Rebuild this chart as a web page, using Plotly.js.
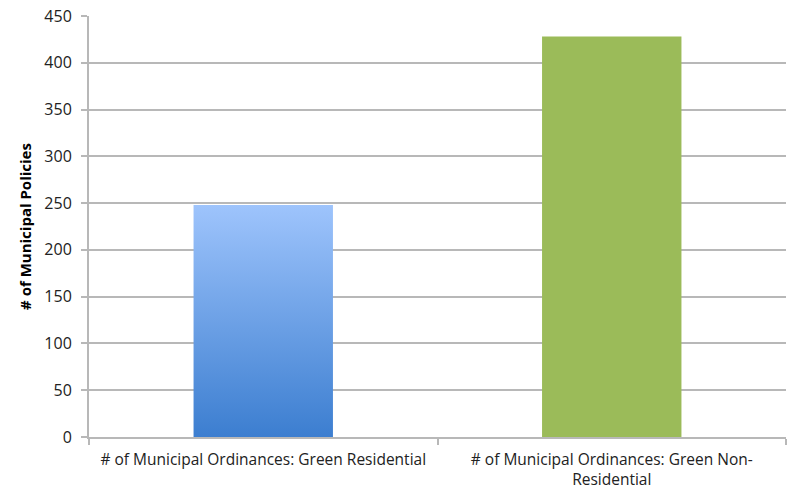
<!DOCTYPE html>
<html>
<head>
<meta charset="utf-8">
<script src="https://cdn.plot.ly/plotly-3.0.1.min.js"></script>
<style>html,body{margin:0;padding:0;background:#fff;}#chart{width:794px;height:492px;}</style>
</head>
<body>
<div id="chart"></div>
<script>
const categories = ["# of Municipal Ordinances: Green Residential", "# of Municipal Ordinances: Green Non-<br>Residential"];
const values = [248, 428];
const barColors = ["#6FA3EA", "#9BBB59"];
const yTickVals = [0, 50, 100, 150, 200, 250, 300, 350, 400, 450];

const font = "Open Sans, Arial, sans-serif";
const trace = {
  type: "bar",
  x: categories,
  y: values,
  marker: {color: barColors, line: {width: 0}},
  hoverinfo: "none"
};
const layout = {
  width: 794, height: 492,
  margin: {l: 89, r: 8, t: 16, b: 55},
  paper_bgcolor: "#fff", plot_bgcolor: "#fff",
  bargap: 0.6,
  showlegend: false,
  font: {family: font, size: 15, color: "#222"},
  xaxis: {
    type: "category",
    showline: true, linecolor: "#b8b8b8", linewidth: 2,
    ticks: "outside", tickson: "boundaries", ticklen: 6, tickcolor: "#b8b8b8", tickwidth: 2,
    ticklabelstandoff: 7,
    showgrid: false, tickfont: {family: font, size: 15.5, color: "#222"}
  },
  yaxis: {
    range: [0, 450], tickvals: yTickVals,
    showline: true, linecolor: "#b8b8b8", linewidth: 2,
    ticks: "outside", ticklen: 6, tickcolor: "#b8b8b8", tickwidth: 2,
    ticklabelstandoff: 6,
    showgrid: true, gridcolor: "#b8b8b8", gridwidth: 2,
    zeroline: false,
    tickfont: {family: font, size: 16, color: "#222"},
    title: {text: "<b># of Municipal Policies</b>", font: {family: font, size: 15, color: "#000"}, standoff: 9}
  }
};
Plotly.newPlot("chart", [trace], layout, {staticPlot: true}).then(function(gd){
  const svg = gd.querySelector("svg.main-svg");
  const ns = "http://www.w3.org/2000/svg";
  let defs = svg.querySelector("defs");
  const grad = document.createElementNS(ns, "linearGradient");
  grad.setAttribute("id", "blueGrad");
  grad.setAttribute("x1", "0"); grad.setAttribute("y1", "0");
  grad.setAttribute("x2", "0"); grad.setAttribute("y2", "1");
  const s1 = document.createElementNS(ns, "stop");
  s1.setAttribute("offset", "0"); s1.setAttribute("stop-color", "#9EC4FC");
  const s2 = document.createElementNS(ns, "stop");
  s2.setAttribute("offset", "1"); s2.setAttribute("stop-color", "#3C7ED0");
  grad.appendChild(s1); grad.appendChild(s2);
  defs.appendChild(grad);
  const paths = gd.querySelectorAll(".bars .point path");
  if (paths.length) paths[0].style.fill = "url(#blueGrad)";
});
</script>
</body>
</html>
